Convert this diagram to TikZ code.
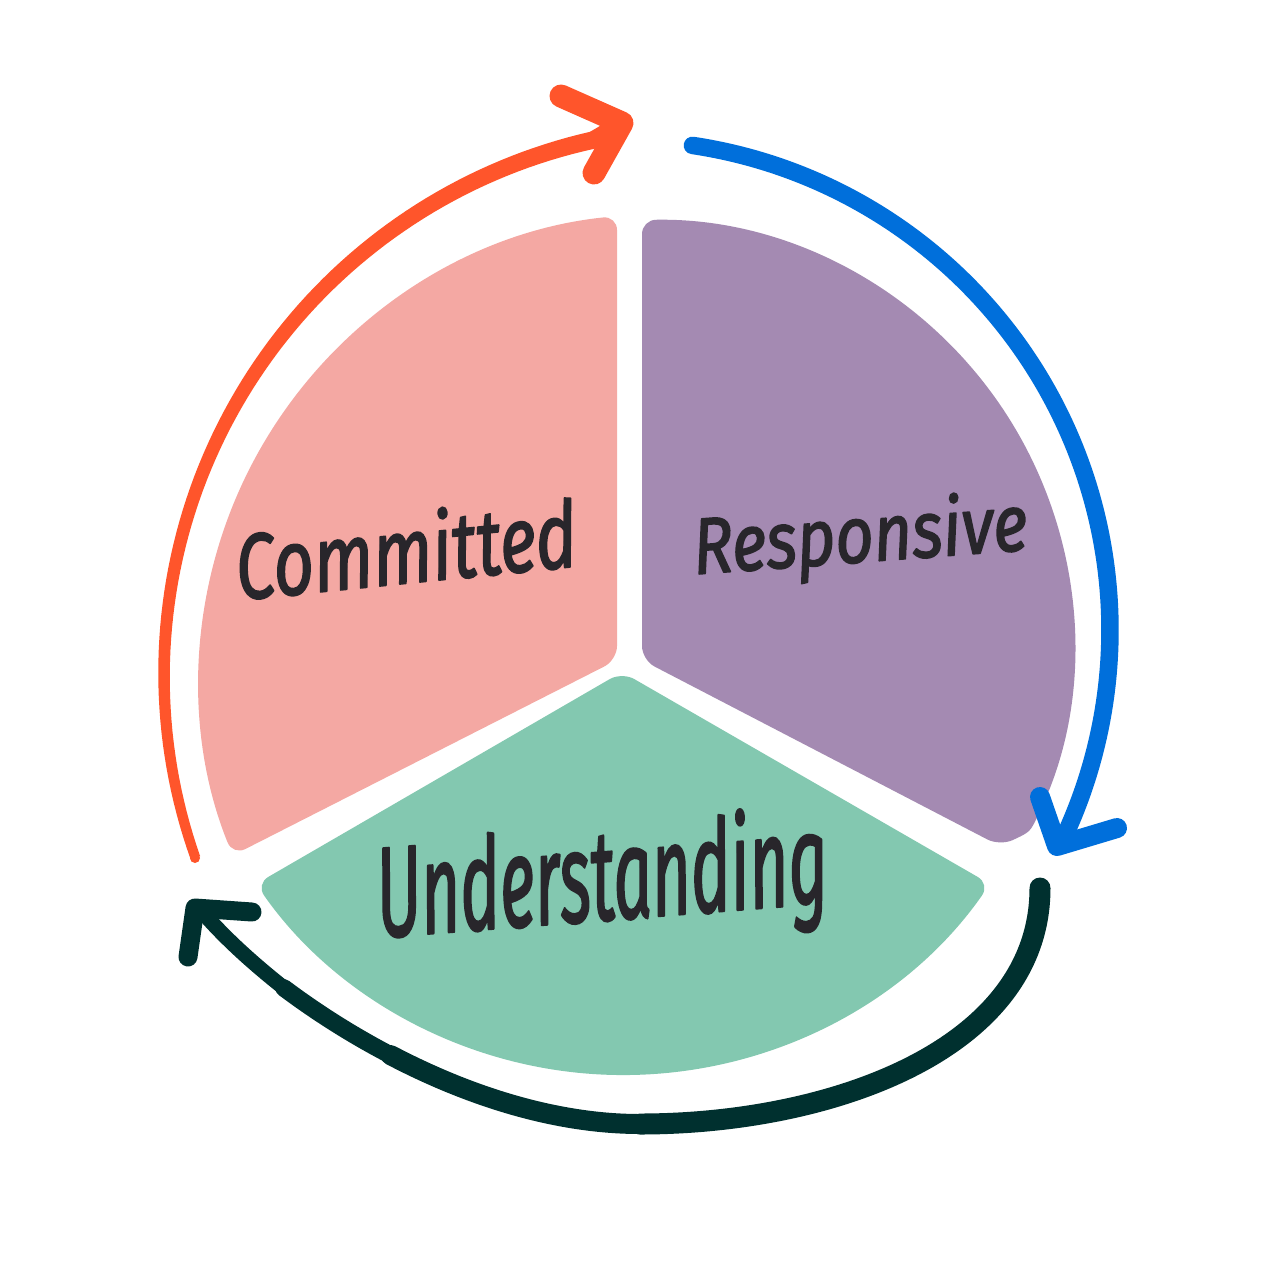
\documentclass[tikz,border=0pt]{standalone}
\usepackage{fontspec}
\usepackage{graphicx}
\newfontfamily\handfont{Fira Sans}[FakeBold=2]
\definecolor{pinkc}{HTML}{F4A8A3}
\definecolor{purplec}{HTML}{A48AB2}
\definecolor{greenc}{HTML}{83C8B0}
\definecolor{orangec}{HTML}{FF552B}
\definecolor{bluec}{HTML}{006FDB}
\definecolor{darkc}{HTML}{00302F}
\definecolor{inkc}{HTML}{28262B}
\begin{document}
\begin{tikzpicture}[x=1pt,y=-1pt,line cap=round,line join=round,
  sector/.style={rounded corners=14},
  label/.style={text=inkc,inner sep=0pt,anchor=base,font=\handfont\itshape},
  darkarc/.style={darkc}]
\useasboundingbox (0,0) rectangle (1272,1288);
\fill[white] (0,0) rectangle (1272,1288);

% sectors
\fill[pinkc,sector] (617,660) -- (617,216) arc[start angle=-96,end angle=-202,radius=467] -- cycle;
\fill[purplec,sector] (642,660) -- (642,220) arc[start angle=-91,end angle=22,radius=425]
  .. controls (1030,832) .. (1000,846) -- cycle;
\fill[greenc,sector] (622,672) -- (990,884) arc[start angle=35,end angle=145,radius=448] -- cycle;

% labels
\node[label,rotate=5.7] (committed) at (409,583) {\resizebox{342pt}{72pt}{Committed}};
\node[label,rotate=4.2] (responsive) at (862,562) {\resizebox{335pt}{62pt}{Responsive}};
\node[label,rotate=4.4] (understanding) at (605,920) {\resizebox{452pt}{100pt}{Understanding}};

% orange arrow (tapering band)
\coordinate (oS) at (195,858);
\coordinate (oT) at (622,123);
\fill[orangec] plot[domain=160.5:257.5,samples=80]
   ({712+(548+5+3.75*(\x-160.5)/97)*cos(\x)},{675+(548+5+3.75*(\x-160.5)/97)*sin(\x)})
 -- plot[domain=257.5:160.5,samples=80]
   ({712+(548-5-3.75*(\x-160.5)/97)*cos(\x)},{675+(548-5-3.75*(\x-160.5)/97)*sin(\x)}) -- cycle;
\fill[orangec] (oS) circle[radius=5];
\draw[orangec,line width=17.5] ([shift={(257.5:548)}]712,675) -- (612,129);
\draw[orangec,line width=23] (561,96) -- (oT) -- (594,173);

% blue arrow
\coordinate (bc) at (620,630);
\coordinate (bT) at (1057,846);
\draw[bluec,line width=17.5] ([shift={(-81.5:490)}]bc) arc[start angle=-81.5,end angle=24,radius=490] -- (bT);
\draw[bluec,line width=20] (1040,797) -- (bT) -- (1117,828);

% dark arrow
\coordinate (dS) at (1040,888);
\coordinate (dT) at (195,908);
\draw[darkarc,line width=21] (dS) .. controls (1040,1050) and (830,1124) .. (640,1124);
\draw[darkarc,line width=20] (640,1124) .. controls (555,1124) and (467.5,1095.5) .. (390.6,1055.1);
\draw[darkarc,line width=17.5] (390.6,1055.1) .. controls (352,1035) and (316,1012) .. (284,988);
\draw[darkarc,line width=15] (284,988) .. controls (255,965) and (228,941) .. (205,915);
\draw[darkc,line width=19] (252,912) -- (dT) -- (188,957);
\end{tikzpicture}
\end{document}
